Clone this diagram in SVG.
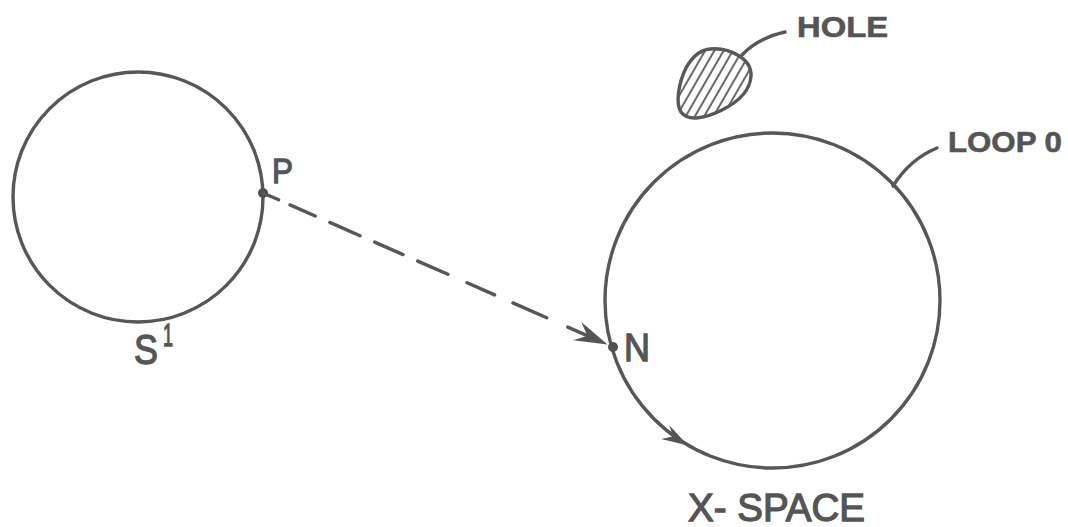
<svg xmlns="http://www.w3.org/2000/svg" width="1068" height="527" viewBox="0 0 1068 527">
<style>
.ln{fill:none;stroke:#575757;stroke-width:3.4;stroke-linecap:round}
.dot{fill:#505050}
.ah{fill:#555}
.t{font-family:"Liberation Sans",Arial,sans-serif;fill:#555;stroke:#555;stroke-width:1.3}
.b{font-weight:bold;stroke-width:0.6}
</style>
<defs>
<pattern id="hatch" width="8" height="8" patternUnits="userSpaceOnUse" patternTransform="rotate(30)">
<line x1="4" y1="0" x2="4" y2="8" stroke="#585858" stroke-width="1.8"/>
</pattern>
<path id="arrow" d="M0,0 L-33,-10 L-22,0 L-33,10 Z"/>
</defs>
<rect width="1068" height="527" fill="#fff"/>
<g id="s1">
<circle class="ln" cx="138" cy="197" r="125"/>
<text class="t" x="134" y="364" font-size="42" textLength="24" lengthAdjust="spacingAndGlyphs">S</text>
<text class="t" x="163" y="346" font-size="32" textLength="10" lengthAdjust="spacingAndGlyphs">1</text>
</g>
<g id="p">
<circle class="dot" cx="263" cy="193" r="5"/>
<text class="t" x="272" y="183" font-size="35" textLength="21" lengthAdjust="spacingAndGlyphs">P</text>
</g>
<g id="loop">
<circle class="ln" cx="772.5" cy="300.5" r="167.5"/>
<use href="#arrow" class="ah" transform="translate(688,445.5) rotate(30.6) scale(0.8)"/>
<path class="ln" d="M893,186 Q910,159 937,148"/>
<text class="t b" x="948" y="152" font-size="29" textLength="114" lengthAdjust="spacingAndGlyphs">LOOP 0</text>
</g>
<g id="n">
<circle class="dot" cx="613" cy="347" r="5"/>
<text class="t" x="624" y="361" font-size="38" textLength="26" lengthAdjust="spacingAndGlyphs">N</text>
</g>
<g id="hole">
<path d="M710,49 C728,47 752,58 751,76 C750,92 738,102 722,110 C706,118 688,122 681,112 C675,103 679,82 686,68 C692,57 700,50 710,49 Z" fill="url(#hatch)" stroke="#585858" stroke-width="3.4"/>
<path class="ln" d="M742,55 Q758,38 785,32"/>
<text class="t b" x="797" y="37" font-size="29" textLength="91" lengthAdjust="spacingAndGlyphs">HOLE</text>
</g>
<g id="xspace">
<text class="t" x="688" y="521" font-size="39" textLength="177" lengthAdjust="spacingAndGlyphs">X- SPACE</text>
</g>
<g id="connectors">
<path class="ln" d="M263,193 L278.6,199.8 M290,204.9 L315.2,216 M329.8,222.4 L360,235.7 M374.7,242.1 L403,254.6 M417.7,261.1 L447.9,274.3 M467.1,282.8 L494.6,294.9 M512.9,302.9 L546.7,317.8 M567.8,327.1 L600,341.2"/>
<use href="#arrow" class="ah" transform="translate(607.5,344.5) rotate(23.75)"/>
</g>
</svg>
